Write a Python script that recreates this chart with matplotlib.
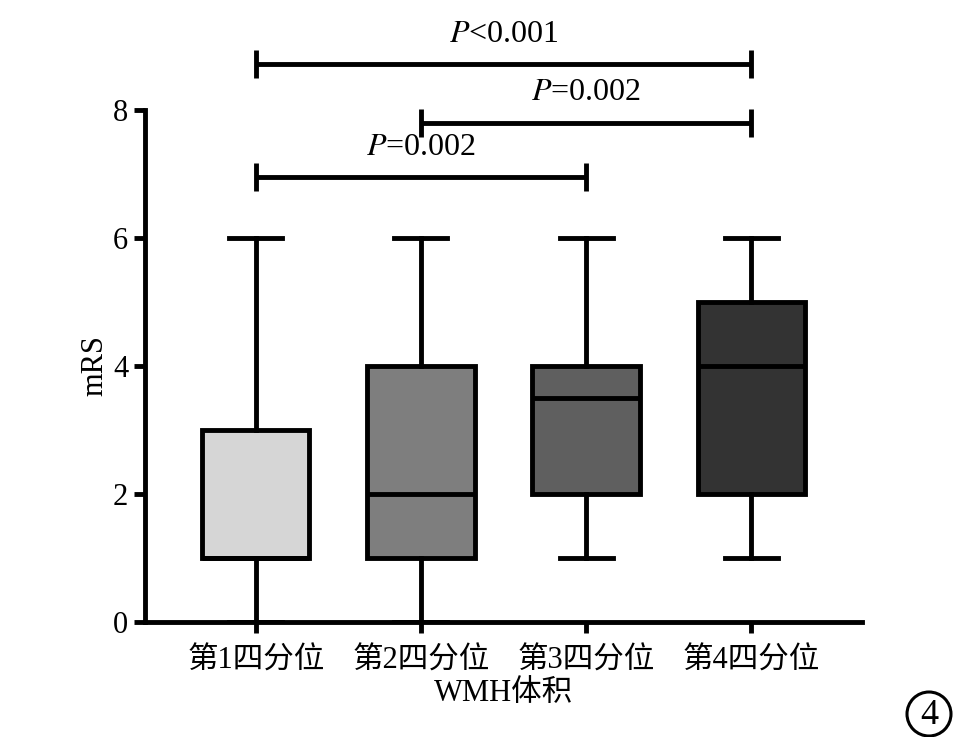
import numpy as np
import matplotlib.pyplot as plt
from matplotlib.patches import Ellipse

# datos
grupos = ['第1四分位', '第2四分位', '第3四分位', '第4四分位']
minimos = [0, 0, 1, 1]
q1 = [1, 1, 2, 2]
medianas = [1, 2, 3.5, 4]
q3 = [3, 4, 4, 5]
maximos = [6, 6, 6, 6]
colores = ['#d6d6d6', '#7e7e7e', '#5f5f5f', '#333333']

# comparaciones (grupo i, grupo j, altura, etiqueta)
comp_i = [1, 2, 1]
comp_j = [4, 4, 3]
comp_y = [8.72, 7.8, 6.95]
comp_txt = ['<0.001', '=0.002', '=0.002']

plt.rcParams['font.family'] = ['Liberation Serif', 'Noto Sans CJK SC']
plt.rcParams['mathtext.fontset'] = 'stix'

fig = plt.figure(figsize=(9.54, 7.37), dpi=100)
ax = fig.add_axes([0.152, 0.156, 0.7516, 0.6947])

stats = []
for k in range(len(grupos)):
    stats.append(dict(med=medianas[k], q1=q1[k], q3=q3[k],
                      whislo=minimos[k], whishi=maximos[k], fliers=[]))

pos = np.arange(1, len(grupos) + 1)
lw = 3.5
bp = ax.bxp(stats, positions=pos, widths=0.65, patch_artist=True,
            showfliers=False, capwidths=0.32,
            boxprops=dict(linewidth=lw, edgecolor='black'),
            medianprops=dict(linewidth=lw, color='black'),
            whiskerprops=dict(linewidth=lw, color='black'),
            capprops=dict(linewidth=lw, color='black'))
for caja, c in zip(bp['boxes'], colores):
    caja.set_facecolor(c)

ax.set_xlim(0.33, 4.67)
ax.set_ylim(0, 8)
ax.set_yticks([0, 2, 4, 6, 8])
ax.set_xticks(pos)
ax.set_xticklabels(grupos, fontsize=22)
ax.tick_params(axis='y', labelsize=22, width=lw, length=8, pad=4)
ax.tick_params(axis='x', width=lw, length=8, pad=10)
for s in ['top', 'right']:
    ax.spines[s].set_visible(False)
for s in ['left', 'bottom']:
    ax.spines[s].set_linewidth(lw)
ax.set_ylabel('mRS', fontsize=22, labelpad=3)
ax.set_xlabel('WMH体积', fontsize=22, labelpad=2)

# barras de significancia
for i, j, y, t in zip(comp_i, comp_j, comp_y, comp_txt):
    ax.plot([i, j], [y, y], color='black', lw=lw, clip_on=False, solid_capstyle='butt')
    for xx in (i, j):
        ax.plot([xx, xx], [y - 0.22, y + 0.22], color='black', lw=lw,
                clip_on=False, solid_capstyle='butt')
    ax.text((i + j) / 2, y + 0.24, r'$\mathit{P}$' + t, ha='center', va='bottom',
            fontsize=23, clip_on=False)

# numero de panel
fig.patches.append(Ellipse((929 / 954, 1 - 714 / 737), 44 / 954, 44 / 737,
                           transform=fig.transFigure, fill=False, lw=2.2, ec='black'))
fig.text(929 / 954, 1 - 715 / 737, '4', ha='center', va='center', fontsize=26)

fig.savefig('out.png', dpi=100)
